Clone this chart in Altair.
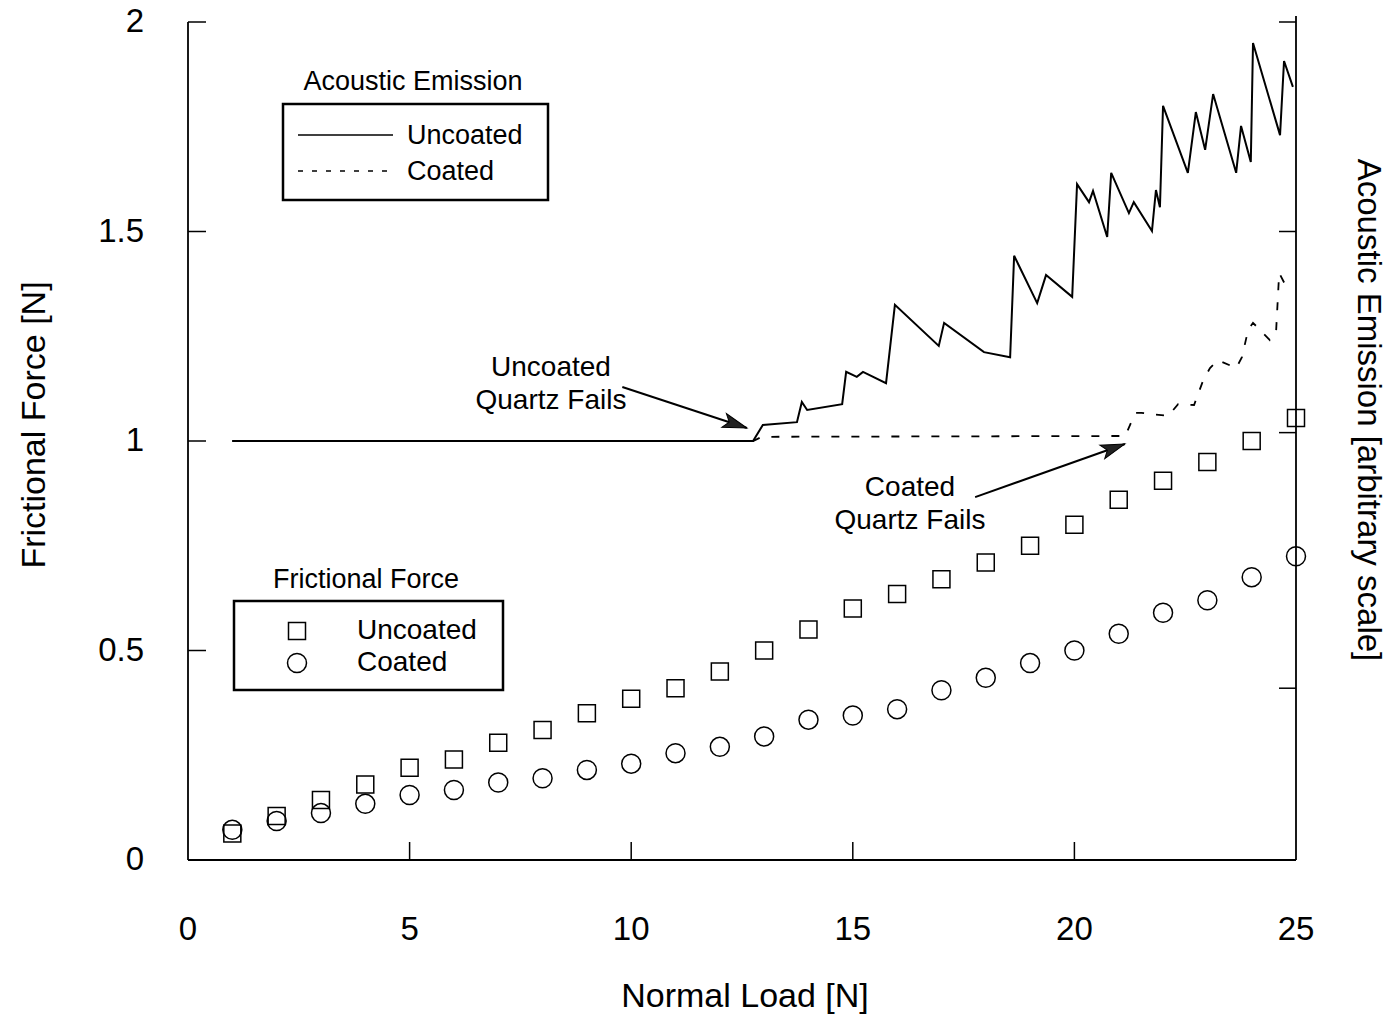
import altair as alt
import pandas as pd

# ---------------- data ----------------
load = list(range(1, 26))
ff_uncoated = [0.063, 0.105, 0.143, 0.18, 0.22, 0.24, 0.28, 0.31, 0.35, 0.385,
               0.41, 0.45, 0.50, 0.55, 0.60, 0.635, 0.67, 0.71, 0.75, 0.80,
               0.86, 0.905, 0.95, 1.00, 1.055]
ff_coated = [0.072, 0.093, 0.112, 0.134, 0.155, 0.167, 0.185, 0.195, 0.215, 0.23,
             0.255, 0.27, 0.295, 0.335, 0.345, 0.36, 0.405, 0.435, 0.47, 0.50,
             0.54, 0.59, 0.62, 0.675, 0.725]

ae_unc_x = [1.0, 12.75, 12.97, 13.74, 13.85, 13.97, 14.76, 14.85, 15.09, 15.23,
            15.75, 15.95, 16.94, 17.06, 17.96, 18.55, 18.64, 19.16, 19.36, 19.95,
            20.06, 20.33, 20.42, 20.74, 20.83, 21.23, 21.34, 21.75, 21.84, 21.93,
            22.00, 22.56, 22.74, 22.95, 23.13, 23.65, 23.76, 23.98, 24.03, 24.64,
            24.73, 24.93]
ae_unc_y = [1.0, 1.0, 1.038, 1.045, 1.093, 1.074, 1.088, 1.165, 1.153, 1.165,
            1.138, 1.325, 1.227, 1.282, 1.212, 1.200, 1.442, 1.329, 1.396, 1.344,
            1.613, 1.570, 1.597, 1.487, 1.640, 1.544, 1.570, 1.501, 1.599, 1.558,
            1.800, 1.640, 1.785, 1.695, 1.828, 1.640, 1.752, 1.666, 1.950, 1.730,
            1.907, 1.845]

ae_coat_x = [1.0, 12.75, 12.95, 21.15, 21.37, 21.51, 22.12, 22.34, 22.70, 22.91,
             23.06, 23.24, 23.65, 23.78, 23.92, 24.03, 24.41, 24.55, 24.62, 24.84]
ae_coat_y = [1.0, 1.0, 1.01, 1.012, 1.067, 1.067, 1.060, 1.088, 1.086, 1.146,
             1.174, 1.193, 1.174, 1.200, 1.265, 1.282, 1.241, 1.260, 1.401, 1.356]

x_labels = [0, 5, 10, 15, 20, 25]
y_labels = [0, 0.5, 1, 1.5, 2]
y_label_text = ["0", "0.5", "1", "1.5", "2"]
x_ticks = [5, 10, 15, 20]
y_ticks = [0.5, 1.0, 1.5, 2.0]
right_ticks = [2.0, 1.5, 1.02, 0.41]

x_title = "Normal Load [N]"
y_title = "Frictional Force [N]"
y2_title = "Acoustic Emission [arbitrary scale]"

# annotations: label lines and arrows (data coordinates)
ann_text = ["Uncoated", "Quartz Fails", "Coated", "Quartz Fails"]
ann_x = [8.19, 8.19, 16.29, 16.29]
ann_y = [1.174, 1.095, 0.888, 0.809]
arrow_x1 = [9.80, 17.76]
arrow_y1 = [1.129, 0.866]
arrow_x2 = [12.61, 21.14]
arrow_y2 = [1.031, 0.993]
arrow_angle = [18.5, 340.5]

# ---------------- layout ----------------
W, H = 1108, 838
FONT = "Liberation Sans"
BLACK = "#000000"

xs = alt.Scale(domain=[0, 25], nice=False, zero=False)
ys = alt.Scale(domain=[0, 2], nice=False, zero=False)

one = pd.DataFrame({"a": [0]})

ff = pd.DataFrame({"load": load, "unc": ff_uncoated, "coat": ff_coated})
ae_u = pd.DataFrame({"x": ae_unc_x, "y": ae_unc_y})
ae_c = pd.DataFrame({"x": ae_coat_x, "y": ae_coat_y})


def X(f):
    return alt.X(f, scale=xs, axis=None)


def Y(f):
    return alt.Y(f, scale=ys, axis=None)


squares = alt.Chart(ff).mark_point(shape="square", filled=False, size=289,
                                   stroke=BLACK, strokeWidth=1.5, opacity=1).encode(
    x=X("load:Q"), y=Y("unc:Q"))
circles = alt.Chart(ff).mark_point(shape="circle", filled=False, size=361,
                                   stroke=BLACK, strokeWidth=1.5, opacity=1).encode(
    x=X("load:Q"), y=Y("coat:Q"))

line_c = alt.Chart(ae_c).mark_line(color=BLACK, strokeWidth=1.8, strokeDash=[8, 12]).encode(
    x=X("x:Q"), y=Y("y:Q"))
line_u = alt.Chart(ae_u).mark_line(color=BLACK, strokeWidth=2).encode(
    x=X("x:Q"), y=Y("y:Q"))

# ---- hand-drawn axes (inward ticks, labels far from the frame) ----
left_line = alt.Chart(one).mark_rule(color=BLACK, strokeWidth=1.8).encode(
    x=alt.value(0), y=alt.value(0), y2=alt.value(H))
bottom_line = alt.Chart(one).mark_rule(color=BLACK, strokeWidth=1.8).encode(
    x=alt.value(0), x2=alt.value(W), y=alt.value(H))
right_line = alt.Chart(one).mark_rule(color=BLACK, strokeWidth=1.8).encode(
    x=alt.value(W), y=alt.value(-6), y2=alt.value(H))

xt = alt.Chart(pd.DataFrame({"v": x_ticks})).mark_rule(color=BLACK, strokeWidth=1.5).encode(
    x=X("v:Q"), y=alt.value(H), y2=alt.value(H - 18))
yt = alt.Chart(pd.DataFrame({"v": y_ticks})).mark_rule(color=BLACK, strokeWidth=1.5).encode(
    y=Y("v:Q"), x=alt.value(0), x2=alt.value(18))
rt = alt.Chart(pd.DataFrame({"v": right_ticks})).mark_rule(color=BLACK, strokeWidth=1.5).encode(
    y=Y("v:Q"), x=alt.value(W - 17), x2=alt.value(W))

xl = alt.Chart(pd.DataFrame({"v": x_labels, "t": [str(v) for v in x_labels]})).mark_text(
    font=FONT, fontSize=33, align="center", baseline="middle", color=BLACK).encode(
    x=X("v:Q"), y=alt.value(H + 70), text="t:N")
yl = alt.Chart(pd.DataFrame({"v": y_labels, "t": y_label_text})).mark_text(
    font=FONT, fontSize=33, align="right", baseline="middle", color=BLACK).encode(
    y=Y("v:Q"), x=alt.value(-44), text="t:N")

x_title_l = alt.Chart(one).mark_text(text=x_title, font=FONT, fontSize=34, align="center",
                                     baseline="middle", color=BLACK).encode(
    x=alt.value(557), y=alt.value(H + 137))
y_title_l = alt.Chart(one).mark_text(text=y_title, font=FONT, fontSize=34, angle=270,
                                     align="center", baseline="middle", color=BLACK).encode(
    x=alt.value(-153), y=alt.value(403))
y2_title_l = alt.Chart(one).mark_text(text=y2_title, font=FONT, fontSize=33, angle=90,
                                      align="center", baseline="middle", color=BLACK).encode(
    x=alt.value(1180), y=alt.value(388))


def txt(s, x, y, size, align="center"):
    return alt.Chart(one).mark_text(text=s, font=FONT, fontSize=size, align=align,
                                    baseline="middle", color=BLACK).encode(
        x=alt.value(x), y=alt.value(y))


def box(x1, y1, x2, y2):
    return alt.Chart(one).mark_rect(fill=None, stroke=BLACK, strokeWidth=2.5).encode(
        x=alt.value(x1), x2=alt.value(x2), y=alt.value(y1), y2=alt.value(y2))


# legend: Acoustic Emission
leg1 = [
    txt("Acoustic Emission", 225, 60, 27),
    box(95, 82, 360, 178),
    alt.Chart(one).mark_rule(color=BLACK, strokeWidth=1.3).encode(
        x=alt.value(110), x2=alt.value(205), y=alt.value(113)),
    alt.Chart(one).mark_rule(color=BLACK, strokeWidth=1.3, strokeDash=[5, 9]).encode(
        x=alt.value(110), x2=alt.value(205), y=alt.value(149)),
    txt("Uncoated", 219, 114, 27, "left"),
    txt("Coated", 219, 150, 27, "left"),
]
# legend: Frictional Force
leg2 = [
    txt("Frictional Force", 178, 558, 27),
    box(46, 579, 315, 668),
    alt.Chart(one).mark_point(shape="square", filled=False, size=289, stroke=BLACK,
                              strokeWidth=1.5, opacity=1).encode(
        x=alt.value(109), y=alt.value(609)),
    alt.Chart(one).mark_point(shape="circle", filled=False, size=361, stroke=BLACK,
                              strokeWidth=1.5, opacity=1).encode(
        x=alt.value(109), y=alt.value(641)),
    txt("Uncoated", 169, 609, 28, "left"),
    txt("Coated", 169, 641, 28, "left"),
]

ann = pd.DataFrame({"t": ann_text, "x": ann_x, "y": ann_y})
ann_layer = alt.Chart(ann).mark_text(font=FONT, fontSize=28, align="center",
                                     baseline="middle", color=BLACK).encode(
    x=X("x:Q"), y=Y("y:Q"), text="t:N")

arr = pd.DataFrame({"x1": arrow_x1, "y1": arrow_y1, "x2": arrow_x2, "y2": arrow_y2,
                    "ang": arrow_angle})
arrow_lines = alt.Chart(arr).mark_rule(color=BLACK, strokeWidth=2).encode(
    x=X("x1:Q"), y=Y("y1:Q"), x2="x2:Q", y2="y2:Q")
arrow_heads = alt.Chart(arr).mark_point(
    shape="M0,0 L-2,-0.6 L-1.55,0 L-2,0.6 Z", filled=True, fill="#222222",
    stroke=BLACK, strokeWidth=1, size=576, opacity=1).encode(
    x=X("x2:Q"), y=Y("y2:Q"), angle=alt.Angle("ang:Q", scale=None))

chart = alt.layer(
    line_c, line_u, squares, circles,
    left_line, bottom_line, right_line, xt, yt, rt, xl, yl,
    x_title_l, y_title_l, y2_title_l,
    ann_layer, arrow_lines, arrow_heads, *leg1, *leg2,
).properties(
    width=W, height=H,
    autosize=alt.AutoSizeParams(type="none"),
    padding={"left": 188, "top": 22, "right": 93, "bottom": 157},
    background="white",
).configure_view(stroke=None)

chart.save("out.html", embed_options={"renderer": "svg", "actions": False})
